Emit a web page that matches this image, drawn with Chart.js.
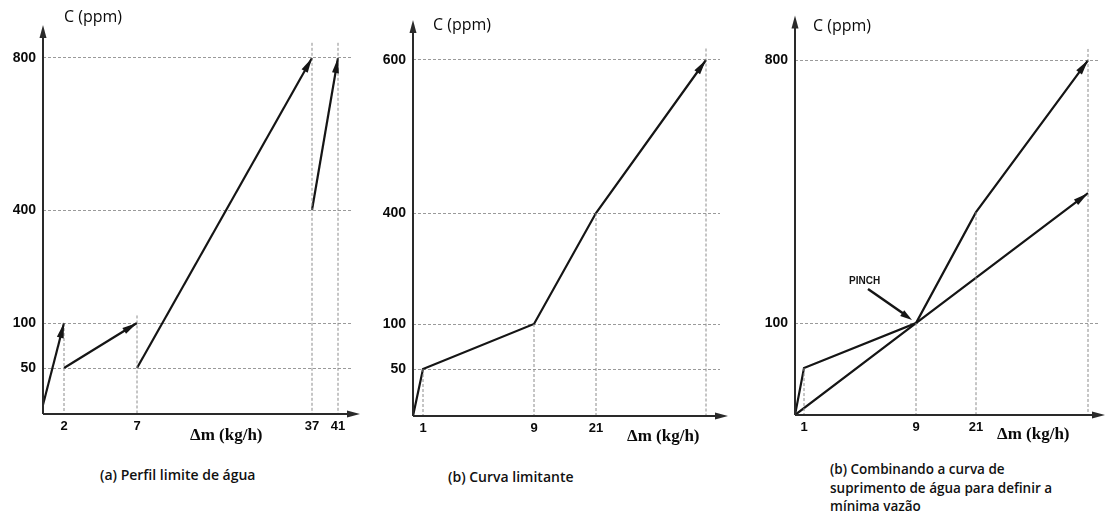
<!DOCTYPE html>
<html lang="pt">
<head>
<meta charset="UTF-8">
<script src="https://cdn.jsdelivr.net/npm/chart.js"></script>
<title>Curvas limitantes</title>
<style>
  body { margin: 0; background: #fff; width: 1106px; height: 517px; position: relative; overflow: hidden; font-family: "Open Sans", sans-serif; }
  canvas { position: absolute; top: 0; }
  .legenda { position: absolute; font-size: 14px; font-weight: 600; line-height: 18.5px; color: #111; white-space: nowrap; }
</style>
</head>
<body>

<canvas id="painelA" width="370" height="460" style="left:0px"></canvas>
<canvas id="painelB" width="370" height="460" style="left:370px"></canvas>
<canvas id="painelC" width="366" height="460" style="left:740px"></canvas>

<div class="legenda" style="left:100px; top:466px">(a) Perfil limite de água</div>
<div class="legenda" style="left:448px; top:468px">(b) Curva limitante</div>
<div class="legenda" style="left:830px; top:460px; font-size:13.5px">(b) Combinando a curva de<br>suprimento de água para definir a<br>mínima vazão</div>

<script>
// ---- dados (Δm em kg/h, C em ppm) ----

// (a) perfil limite de cada operação
const opA1 = [[0, 10], [2, 100]];
const opA2 = [[2, 50], [7, 100]];
const opA3 = [[7, 50], [37, 800]];
const opA4 = [[37, 400], [41, 800]];
const ticksXA = [2, 7, 37, 41];
const ticksYA = [50, 100, 400, 800];
const quedasA = [[2, 100], [7, 120], [37, 840], [41, 840]];

// (b) curva limitante composta
const curvaB = [[0, 0], [1, 50], [9, 100], [21, 400], [41, 600]];
const ticksXB = [1, 9, 21];
const ticksYB = [50, 100, 400, 600];
const quedasB = [[1, 50], [9, 100], [21, 400], [41, 615]];

// (c) curva limitante + linha de suprimento de água
const curvaC = [[0, 0], [1, 50], [9, 100], [21, 400], [41, 800]];
const suprimentoC = [[0, 0], [9, 100], [41, 450]];
const ticksXC = [1, 9, 21];
const ticksYC = [100, 800];
const quedasC = [[1, 50], [9, 100], [21, 400], [41, 830]];
const pinchC = [9, 100];

// os eixos da figura original nao sao lineares: cada valor vai para uma posicao do eixo
function escala(reais, pos) {
  return function (v) {
    for (let i = 1; i < reais.length; i++) {
      if (v <= reais[i] || i == reais.length - 1) {
        const t = (v - reais[i - 1]) / (reais[i] - reais[i - 1]);
        return pos[i - 1] + t * (pos[i] - pos[i - 1]);
      }
    }
  };
}

function ponta(ctx, x0, y0, x1, y1, tam, larg) {
  const ang = Math.atan2(y1 - y0, x1 - x0);
  ctx.save();
  ctx.translate(x1, y1);
  ctx.rotate(ang);
  ctx.beginPath();
  ctx.moveTo(0, 0);
  ctx.lineTo(-tam, -larg / 2);
  ctx.lineTo(-tam, larg / 2);
  ctx.closePath();
  ctx.fill();
  ctx.restore();
}

const cor = '#151515';

const desenhoExtra = {
  id: 'desenhoExtra',
  afterDatasetsDraw(chart, args, opts) {
    const ctx = chart.ctx, a = chart.chartArea;
    ctx.save();
    ctx.strokeStyle = '#2a2a2a';
    ctx.fillStyle = '#2a2a2a';
    ctx.lineWidth = 2;

    // eixos com setas
    ctx.beginPath();
    ctx.moveTo(a.left, a.bottom);
    ctx.lineTo(a.left, a.top + 8);
    ctx.moveTo(a.left, a.bottom);
    ctx.lineTo(a.right + opts.extraX - 8, a.bottom);
    ctx.stroke();
    ponta(ctx, a.left, a.bottom, a.left, a.top, 13, 7);
    ponta(ctx, a.left, a.bottom, a.right + opts.extraX, a.bottom, 13, 7);

    // setas no fim das curvas
    ctx.fillStyle = cor;
    chart.data.datasets.forEach((ds, i) => {
      if (!ds.seta) return;
      const pts = chart.getDatasetMeta(i).data;
      const p0 = pts[pts.length - 2], p1 = pts[pts.length - 1];
      ponta(ctx, p0.x, p0.y, p1.x, p1.y, 15, 7);
    });

    // titulos dos eixos
    ctx.fillStyle = '#0a0a0a';
    ctx.textBaseline = 'middle';
    ctx.textAlign = 'left';
    ctx.font = '16px "Open Sans"';
    ctx.fillText('C (ppm)', opts.tituloY[0], opts.tituloY[1]);
    ctx.font = 'bold 17px "Liberation Serif"';
    ctx.fillText('Δm (kg/h)', opts.tituloX[0], opts.tituloX[1]);

    // indicacao do pinch
    if (opts.pinch) {
      const px = chart.scales.x.getPixelForValue(opts.wx(opts.pinch[0]));
      const py = chart.scales.y.getPixelForValue(opts.wy(opts.pinch[1]));
      ctx.strokeStyle = cor;
      ctx.fillStyle = cor;
      ctx.lineWidth = 2.5;
      ctx.beginPath();
      ctx.moveTo(px - 48, py - 34);
      ctx.lineTo(px - 12, py - 9);
      ctx.stroke();
      ponta(ctx, px - 48, py - 34, px - 4, py - 3, 12, 7);
      ctx.font = 'bold 10px "Liberation Sans"';
      ctx.fillText('PINCH', px - 67, py - 42);
    }
    ctx.restore();
  }
};

function criarPainel(id, p) {
  const wx = escala(p.xReais, p.xPos);
  const wy = escala(p.yReais, p.yPos);
  const pontos = arr => arr.map(v => ({ x: wx(v[0]), y: wy(v[1]) }));

  const datasets = [];
  // linhas de chamada tracejadas ate o eixo x
  const quedas = [];
  p.quedas.forEach(q => {
    quedas.push({ x: wx(q[0]), y: wy(q[1]) }, { x: wx(q[0]), y: 0 }, { x: wx(q[0]), y: null });
  });
  datasets.push({
    data: quedas, borderColor: '#8c8c8c', borderWidth: 1, borderDash: [3, 2],
    pointRadius: 0, spanGaps: false
  });
  p.curvas.forEach(c => {
    datasets.push({
      data: pontos(c), borderColor: cor, borderWidth: 2.2, pointRadius: 0, tension: 0, seta: true
    });
  });

  return new Chart(document.getElementById(id), {
    type: 'line',
    data: { datasets: datasets },
    plugins: [desenhoExtra],
    options: {
      responsive: false,
      animation: false,
      events: [],
      layout: { padding: { left: 0, top: p.topo, right: p.direita, bottom: 0 } },
      plugins: {
        legend: { display: false },
        tooltip: { enabled: false },
        desenhoExtra: {
          extraX: p.extraX, tituloY: p.tituloY, tituloX: p.tituloX,
          pinch: p.pinch, wx: wx, wy: wy
        }
      },
      scales: {
        x: {
          type: 'linear', min: 0, max: p.maxX,
          afterBuildTicks: s => { s.ticks = p.ticksX.map(v => ({ value: wx(v) })); },
          afterFit: s => { s.height = p.alturaX; },
          ticks: {
            callback: (v, i) => p.ticksX[i],
            autoSkip: false, maxRotation: 0, padding: 5,
            color: '#0a0a0a', font: { family: 'Liberation Sans', weight: 'bold', size: 13 }
          },
          grid: { display: false, drawTicks: false },
          border: { display: false }
        },
        y: {
          type: 'linear', min: 0, max: p.maxY,
          afterBuildTicks: s => { s.ticks = p.ticksY.map(v => ({ value: wy(v) })); },
          afterFit: s => { s.width = p.larguraY; },
          ticks: {
            callback: (v, i) => p.ticksY[i],
            autoSkip: false, padding: 7,
            color: '#0a0a0a', font: { family: 'Liberation Sans', weight: 'bold', size: 14 }
          },
          grid: { color: '#9a9a9a', lineWidth: 1, drawTicks: false },
          border: { display: false, dash: [3, 2] }
        }
      }
    }
  });
}

criarPainel('painelA', {
  xReais: [0, 2, 7, 37, 41], xPos: [0, 21, 94, 269, 295],
  yReais: [0, 50, 100, 400, 800], yPos: [0, 46, 91, 204, 356],
  maxX: 309, maxY: 389, topo: 25, direita: 18, larguraY: 43, alturaX: 46, extraX: 8,
  ticksX: ticksXA, ticksY: ticksYA, quedas: quedasA,
  curvas: [opA1, opA2, opA3, opA4],
  tituloY: [64, 17], tituloX: [190, 436]
});

criarPainel('painelB', {
  xReais: [0, 1, 9, 21, 41], xPos: [0, 10, 121, 183, 293],
  yReais: [0, 50, 100, 400, 600], yPos: [0, 47, 92, 203, 356],
  maxX: 307, maxY: 396, topo: 20, direita: 20, larguraY: 43, alturaX: 44, extraX: 8,
  ticksX: ticksXB, ticksY: ticksYB, quedas: quedasB,
  curvas: [curvaB],
  tituloY: [63, 25], tituloX: [257, 437]
});

criarPainel('painelC', {
  xReais: [0, 1, 9, 21, 41], xPos: [0, 9, 121, 181, 293],
  yReais: [0, 50, 100, 400, 800], yPos: [0, 47, 92, 203, 355],
  maxX: 304, maxY: 400, topo: 15, direita: 7, larguraY: 55, alturaX: 45, extraX: 6,
  ticksX: ticksXC, ticksY: ticksYC, quedas: quedasC,
  curvas: [curvaC, suprimentoC],
  tituloY: [73, 26], tituloX: [257, 435],
  pinch: pinchC
});
</script>

</body>
</html>
